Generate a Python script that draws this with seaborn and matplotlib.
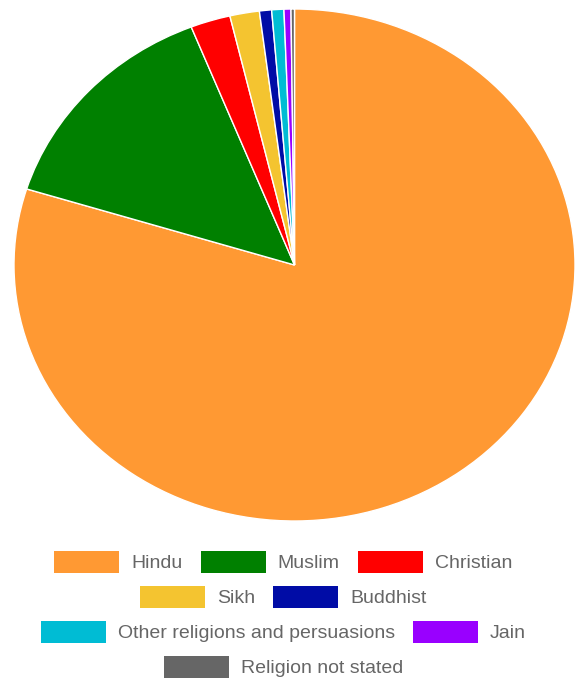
import matplotlib
matplotlib.use("Agg")
import matplotlib.pyplot as plt
import seaborn as sns
from matplotlib.patches import Patch

religions = ["Hindu", "Muslim", "Christian", "Sikh", "Buddhist",
             "Other religions and persuasions", "Jain", "Religion not stated"]
shares = [79.8, 14.2, 2.3, 1.7, 0.7, 0.7, 0.4, 0.2]
colors = ["#FF9933", "#008000", "#FF0000", "#F4C430", "#000CA6",
          "#00BCD4", "#9900FF", "#666666"]
legend_rows = [[0, 1, 2], [3, 4], [5, 6], [7]]

sns.set_theme(style="white")
plt.rcParams["font.family"] = ["Liberation Sans", "DejaVu Sans"]

fig = plt.figure(figsize=(5.85, 6.79), dpi=100)
ax = fig.add_axes([14 / 585, 1 - 521 / 679, 561 / 585, 512 / 679])
ax.pie(shares, colors=colors, startangle=90, counterclock=False,
       wedgeprops=dict(edgecolor="white", linewidth=1))
ax.set_aspect("auto")
ax.set_xlim(-1, 1)
ax.set_ylim(-1, 1)
ax.axis("off")

fs = 14
px = fs * 100 / 72
row_y = [1 - 562 / 679, 1 - 597 / 679, 1 - 632 / 679, 1 - 667 / 679]
for idxs, y in zip(legend_rows, row_y):
    handles = [Patch(facecolor=colors[i], edgecolor="none",
                     label=religions[i]) for i in idxs]
    fig.legend(handles=handles, loc="center", bbox_to_anchor=(0.484, y),
               ncol=len(idxs), frameon=False, fontsize=fs,
               handlelength=65 / px, handleheight=1.35,
               handletextpad=12 / px, columnspacing=18 / px,
               labelcolor="#666666", borderpad=0, borderaxespad=0)

fig.savefig("out.png", dpi=100)
